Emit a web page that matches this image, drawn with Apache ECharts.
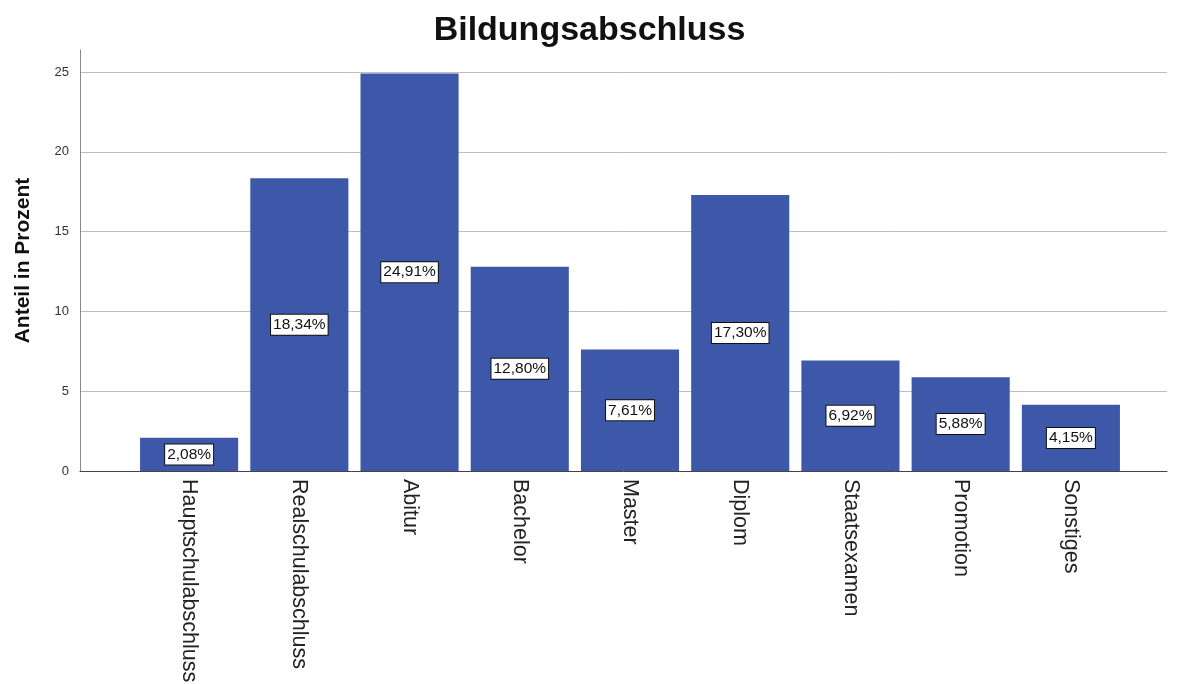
<!DOCTYPE html>
<html>
<head>
<meta charset="utf-8">
<script src="https://cdn.jsdelivr.net/npm/echarts@6/dist/echarts.min.js"></script>
<style>html,body{margin:0;padding:0;background:#fff}#c{width:1179px;height:684px}</style>
</head>
<body>
<div id="c"></div>
<script>
const categories = ["Hauptschulabschluss","Realschulabschluss","Abitur","Bachelor","Master","Diplom","Staatsexamen","Promotion","Sonstiges"];
const values = [2.08, 18.34, 24.91, 12.80, 7.61, 17.30, 6.92, 5.88, 4.15];
const yTicks = [0, 5, 10, 15, 20, 25];
const title = "Bildungsabschluss";
const yName = "Anteil in Prozent";

const font = "Arial, 'Liberation Sans', sans-serif";
const yMax = yTicks[yTicks.length - 1];
const chart = echarts.init(document.getElementById('c'));
chart.setOption({
  animation: false,
  title: { text: title, left: 'center', top: 9, textStyle: { fontFamily: font, fontSize: 34, fontWeight: 'bold', color: '#111' } },
  grid: [
    { left: 80, right: 12, top: 50, bottom: 213, containLabel: false, outerBoundsMode: 'none' },
    { left: 80, right: 12, top: 72, bottom: 213, containLabel: false, outerBoundsMode: 'none' },
    { left: 134, right: 53, top: 72, bottom: 213, containLabel: false, outerBoundsMode: 'none' }
  ],
  xAxis: [
    { gridIndex: 0, type: 'value', min: 0, max: 1, show: false },
    { gridIndex: 1, type: 'value', min: 0, max: 1, axisLine: { show: true, onZero: false, lineStyle: { color: '#444', width: 1 } }, axisTick: { show: false }, axisLabel: { show: false }, splitLine: { show: false } },
    { gridIndex: 2, type: 'category', data: categories, axisLine: { show: false }, axisTick: { show: false },
      axisLabel: { rotate: -90, margin: 8, fontFamily: font, fontSize: 21.5, color: '#222' } }
  ],
  yAxis: [
    { gridIndex: 0, type: 'value', min: 0, max: yMax * 421 / 399, name: yName, nameLocation: 'middle', nameGap: 46,
      nameTextStyle: { fontFamily: font, fontSize: 21, fontWeight: 'bold', color: '#111' },
      axisLine: { show: true, onZero: false, lineStyle: { color: '#888' } }, axisTick: { show: false }, axisLabel: { show: false }, splitLine: { show: false } },
    { gridIndex: 1, type: 'value', min: 0, max: yMax, interval: 5,
      axisLine: { show: false }, axisTick: { show: false },
      axisLabel: { margin: 11, fontFamily: font, fontSize: 13, color: '#333' },
      splitLine: { show: true, lineStyle: { color: '#bdbdbd', width: 1 } } },
    { gridIndex: 2, type: 'value', min: 0, max: yMax, show: false }
  ],
  series: [{
    type: 'bar', xAxisIndex: 2, yAxisIndex: 2, data: values, barCategoryGap: '11%',
    itemStyle: { color: '#3d58a8' },
    label: { show: true, position: 'inside', formatter: p => p.value.toFixed(2).replace('.', ',') + '%',
      fontFamily: font, fontSize: 15.5, color: '#111', backgroundColor: '#fff', borderColor: '#111', borderWidth: 1, padding: [3, 2, 1, 2] }
  }]
});
</script>
</body>
</html>
